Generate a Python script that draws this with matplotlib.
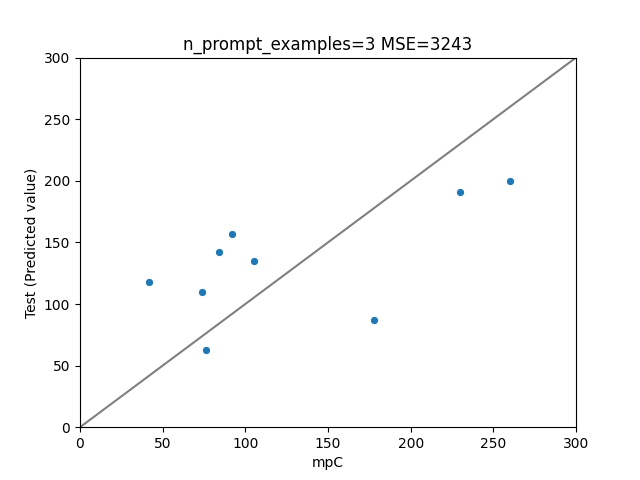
import matplotlib
matplotlib.use("Agg")
import matplotlib.pyplot as plt

actual = [42, 74, 76, 84, 92, 105, 178, 230, 260]
predicted = [118, 110, 63, 142, 157, 135, 87, 191, 200]
title = "n_prompt_examples=3 MSE=3243"

fig, ax = plt.subplots(figsize=(6.4, 4.8), dpi=100)
ax.plot([0, 300], [0, 300], color="gray", zorder=1)
ax.scatter(actual, predicted, color="#1f77b4", s=36, edgecolors="white", linewidths=0.75, zorder=2)
ax.set_xlim(0, 300)
ax.set_ylim(0, 300)
ax.set_xlabel("mpC")
ax.set_ylabel("Test (Predicted value)")
ax.set_title(title)
fig.savefig("out.png")
